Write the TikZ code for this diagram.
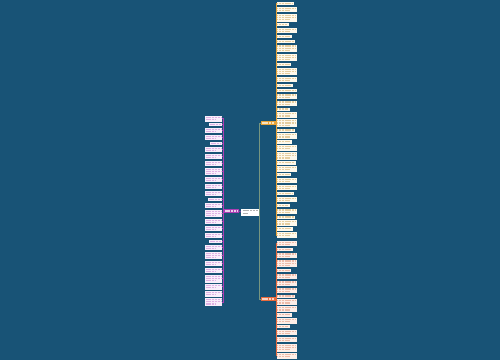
\documentclass[tikz,border=0pt]{standalone}
\definecolor{bg}{RGB}{24,83,118}
\definecolor{pbr}{RGB}{172,62,180}
\definecolor{lfill}{RGB}{248,238,250}
\definecolor{ltxt}{RGB}{222,178,228}
\definecolor{obr}{RGB}{233,163,56}
\definecolor{ufill}{RGB}{254,249,236}
\definecolor{utxt}{RGB}{230,206,160}
\definecolor{rbr}{RGB}{232,106,60}
\definecolor{dfill}{RGB}{253,238,232}
\definecolor{dtxt}{RGB}{238,188,170}
\definecolor{glink}{RGB}{118,150,128}
\begin{document}
\begin{tikzpicture}[x=1pt,y=-1pt,
  leaf/.style={rectangle, inner sep=0pt, anchor=north west},
  branch/.style={rectangle, inner sep=0pt, minimum width=15, minimum height=4.5},
  txt/.style={line width=1.2pt, dash pattern=on 1.1pt off 0.35pt},
  clink/.style={glink, line width=0.5pt},
  plink/.style={pbr, line width=0.6pt},
  olink/.style={obr, line width=0.3pt},
  rlink/.style={rbr, line width=0.3pt}]
\fill[bg] (0,0) rectangle (500,360);
\useasboundingbox (0,0) rectangle (500,360);

% center and branches
\node[rectangle, inner sep=0pt, fill=white, minimum width=18, minimum height=7] (c) at (250,212) {};
\draw[txt, gray!60] (242.5,210.6) -- (257.5,210.6);
\draw[txt, gray!60] (242.5,213.2) -- (248,213.2);
\node[branch, fill=pbr] (pl) at (231.5,211) {};
\draw[txt, white!75!pbr] (225,211) -- (238,211);
\node[branch, fill=obr] (o1) at (268,123) {};
\draw[txt, white!70!obr] (261.5,123) -- (274.5,123);
\node[branch, fill=rbr] (o2) at (268,299) {};
\draw[txt, white!70!rbr] (261.5,299) -- (274.5,299);

\draw[plink] (c.west) -- (pl.east);
\draw[clink] (c.east) -- ++(0.5,0) |- (o1.west);
\draw[clink] (c.east) -- ++(0.5,0) |- (o2.west);

% left leaves
\gdef\curY{116}
\foreach \n/\w [count=\i] in {2/17,1/13,2/17,2/17,1/12,2/17,2/17,2/17,3/17,2/17,2/17,2/17,1/14,2/17,3/17,2/17,2/17,2/17,1/13,2/17,3/17,2/17,2/17,3/17,2/17,2/17,3/17}{
  \pgfmathsetmacro\h{1+2.2*\n}
  \pgfmathsetmacro\xl{222-\w}
  \draw[plink] (pl.west) -- ++(-1,0) |- (\xl+\w,\curY+\h/2);
  \node[leaf, fill=lfill, minimum width=\w, minimum height=\h] (L\i) at (\xl,\curY) {};
  \foreach \k in {1,...,\n}{
    \pgfmathsetmacro\len{(\k<\n || \n==1) ? (\w-2) : 0.65*(\w-2)}
    \pgfmathsetmacro\ty{\curY+1.6+(\k-1)*2.2}
    \draw[txt, ltxt] (\xl+1,\ty) -- ++(\len,0);
  }
  \pgfmathsetmacro\tmp{\curY+\h+1.6}
  \xdef\curY{\tmp}
}

% upper right leaves
\gdef\curY{2}
\foreach \n/\w [count=\i] in {1/17,2/20,3/20,1/12,2/20,1/15,1/18,3/20,3/20,1/14,3/20,2/20,1/16,1/20,2/20,2/20,1/13,2/20,3/20,1/18,2/20,1/15,2/20,3/20,1/19,2/20,1/14,2/20,2/20,1/17,2/20,1/13,2/20,1/18,2/20,1/16,2/20}{
  \pgfmathsetmacro\h{1+2.2*\n}
  \pgfmathsetmacro\xl{276.3}
  \draw[olink] (o1.east) -- ++(0.5,0) |- (\xl,\curY+\h/2);
  \node[leaf, fill=ufill, minimum width=\w, minimum height=\h] (U\i) at (\xl,\curY) {};
  \foreach \k in {1,...,\n}{
    \pgfmathsetmacro\len{(\k<\n || \n==1) ? (\w-2) : 0.65*(\w-2)}
    \pgfmathsetmacro\ty{\curY+1.6+(\k-1)*2.2}
    \draw[txt, utxt] (\xl+1,\ty) -- ++(\len,0);
  }
  \pgfmathsetmacro\tmp{\curY+\h+1.6}
  \xdef\curY{\tmp}
}

% lower right leaves
\gdef\curY{240.5}
\foreach \n/\w [count=\i] in {2/20,1/16,2/20,3/20,1/14,2/20,2/20,2/20,1/18,2/20,2/20,1/15,2/20,1/13,2/20,2/20,3/20,2/20}{
  \pgfmathsetmacro\h{1+2.2*\n}
  \pgfmathsetmacro\xl{276.3}
  \draw[rlink] (o2.east) -- ++(0.5,0) |- (\xl,\curY+\h/2);
  \node[leaf, fill=dfill, minimum width=\w, minimum height=\h] (D\i) at (\xl,\curY) {};
  \foreach \k in {1,...,\n}{
    \pgfmathsetmacro\len{(\k<\n || \n==1) ? (\w-2) : 0.65*(\w-2)}
    \pgfmathsetmacro\ty{\curY+1.6+(\k-1)*2.2}
    \draw[txt, dtxt] (\xl+1,\ty) -- ++(\len,0);
  }
  \pgfmathsetmacro\tmp{\curY+\h+1.6}
  \xdef\curY{\tmp}
}
\end{tikzpicture}
\end{document}
